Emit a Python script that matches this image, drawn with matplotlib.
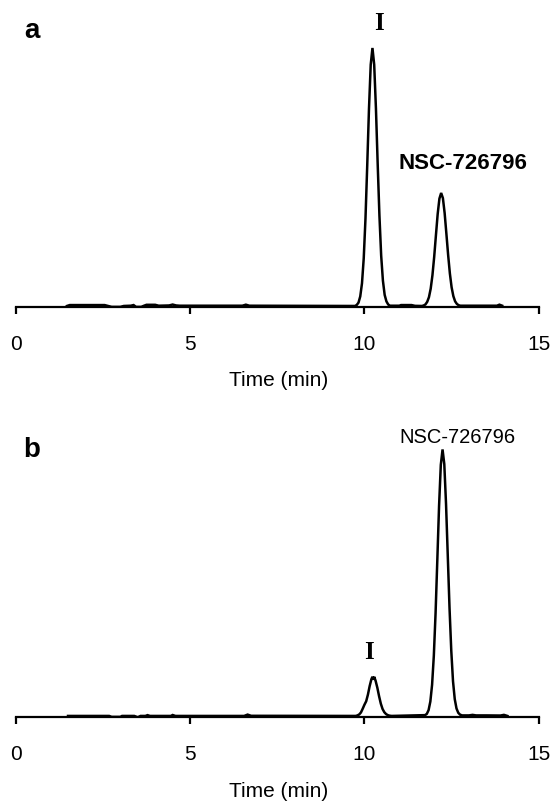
import matplotlib.pyplot as plt

plt.rcParams['font.family'] = ['Liberation Sans', 'DejaVu Sans']

# chromatogram a: retention time [min], detector signal [a.u.]
time_a = [1.47, 1.55, 2.55, 2.65, 2.75, 3.00, 3.10, 3.30, 3.38, 3.45, 3.60, 3.68,
          3.75, 4.00, 4.10, 4.40, 4.50, 4.60, 4.70, 6.50, 6.60, 6.70, 9.73,
          9.78, 9.83, 9.88, 9.93, 9.98, 10.03, 10.08, 10.13, 10.18, 10.23,
          10.28, 10.33, 10.38, 10.43, 10.48, 10.53, 10.58, 10.63, 10.68, 10.73,
          11.00, 11.05, 11.35, 11.45, 11.65,
          11.70, 11.75, 11.80, 11.85, 11.90, 11.95, 12.00, 12.05, 12.10, 12.15,
          12.20, 12.25, 12.30, 12.35, 12.40, 12.45, 12.50, 12.55, 12.60, 12.65,
          12.70, 12.75, 13.80, 13.87, 13.95]
signal_a = [0.0, 0.35, 0.35, 0.0, -0.35, -0.35, 0.0, 0.1, 0.35, -0.35, -0.35, 0.1,
            0.45, 0.45, 0.1, 0.2, 0.55, 0.2, 0.1, 0.1, 0.5, 0.1, 0.0,
            0.4, 1.3, 3.7, 8.8, 18.5, 33.9, 54.4, 76.3, 93.5, 100.0,
            93.5, 76.5, 55.0, 35.0, 19.5, 9.8, 4.3, 1.8, 0.6, 0.1,
            0.1, 0.35, 0.35, 0.05, 0.0,
            0.2, 0.6, 1.6, 3.4, 6.7, 11.9, 19.0, 27.4, 35.6, 41.6,
            43.8, 41.8, 36.0, 28.0, 19.8, 12.6, 7.2, 3.8, 1.8, 0.8,
            0.3, 0.1, 0.1, 0.5, 0.1]

# chromatogram b
time_b = [1.50, 2.68, 2.75, 3.00, 3.05, 3.40, 3.50, 3.58, 3.72, 3.78, 3.85,
          4.45, 4.50, 4.58, 6.55, 6.65, 6.75, 9.75,
          9.80, 9.85, 9.90, 9.95, 10.00, 10.05, 10.10, 10.15, 10.20, 10.23,
          10.255, 10.28, 10.32, 10.37, 10.42, 10.47, 10.52, 10.57, 10.62, 10.67,
          10.72, 10.78,
          11.74, 11.79, 11.84, 11.89, 11.94, 11.99, 12.04, 12.09, 12.14, 12.19,
          12.24, 12.29, 12.34, 12.39, 12.44, 12.49, 12.54, 12.59, 12.64, 12.69,
          12.74, 12.80, 12.85, 13.00, 13.10, 13.20, 13.50, 13.90, 14.00, 14.10]
signal_b = [0.0, 0.0, -0.35, -0.35, 0.0, 0.0, -0.5, 0.0, 0.0, 0.3, 0.0,
            0.0, 0.35, 0.0, 0.0, 0.5, 0.05, 0.0,
            0.2, 0.55, 1.3, 2.7, 4.2, 5.5, 8.0, 11.2, 13.8, 14.7,
            13.6, 14.7, 13.2, 10.6, 7.4, 4.6, 2.6, 1.4, 0.7, 0.3,
            0.1, 0.0,
            0.3, 0.8, 2.2, 5.4, 11.7, 22.6, 38.6, 58.5, 78.8, 94.2,
            100.0, 94.5, 79.5, 60.0, 40.5, 24.5, 13.0, 6.3, 2.8, 1.2,
            0.5, 0.2, 0.2, 0.2, 0.4, 0.2, 0.2, 0.15, 0.4, 0.0]

x_ticks = [0, 5, 10, 15]
peak_names = ['I', 'NSC-726796']

W, H = 554, 803
fig = plt.figure(figsize=(W / 100, H / 100), dpi=100)


def fx(px):
    return px / W


def fy(py):
    return (H - py) / H


def make_axes(axis_py, top_py, per_unit):
    ax = fig.add_axes([fx(15.7), fy(axis_py), fx(538.8 - 15.7), (axis_py - top_py) / H])
    ax.set_xlim(0, 15)
    ax.set_ylim(-0.4, (axis_py - top_py) / per_unit - 0.4)
    for side in ['left', 'right', 'top']:
        ax.spines[side].set_visible(False)
    ax.spines['bottom'].set_linewidth(1.6)
    ax.set_yticks([])
    ax.set_xticks(x_ticks)
    ax.set_xticklabels([str(t) for t in x_ticks])
    ax.tick_params(axis='x', direction='out', length=5, width=1.6, pad=14.4,
                   labelsize=15)
    ax.patch.set_alpha(0)
    return ax


ax_a = make_axes(308, 10, 2.58)
ax_a.plot(time_a, signal_a, color='black', lw=1.8, solid_joinstyle='miter')
ax_a.text(10.41, 107.4, peak_names[0], family='Liberation Serif', weight='bold',
          fontsize=18, ha='center', va='baseline')
ax_a.text(12.83, 53.3, peak_names[1], weight='bold', fontsize=16,
          ha='center', va='baseline')

ax_b = make_axes(718, 420, 2.665)
ax_b.plot(time_b, signal_b, color='black', lw=1.8, solid_joinstyle='miter')
ax_b.text(10.13, 21.7, peak_names[0], family='Liberation Serif', weight='bold',
          fontsize=18, ha='center', va='baseline')
ax_b.text(12.68, 102.8, peak_names[1], fontsize=14.5, ha='center', va='baseline')

fig.text(fx(31.5), fy(38), 'a', weight='bold', fontsize=20, ha='center', va='baseline')
fig.text(fx(32), fy(457), 'b', weight='bold', fontsize=20, ha='center', va='baseline')
fig.text(fx(278.5), fy(385.7), 'Time (min)', fontsize=15, ha='center', va='baseline')
fig.text(fx(278.5), fy(797), 'Time (min)', fontsize=15, ha='center', va='baseline')

fig.savefig('out.png', dpi=100, facecolor='white')
